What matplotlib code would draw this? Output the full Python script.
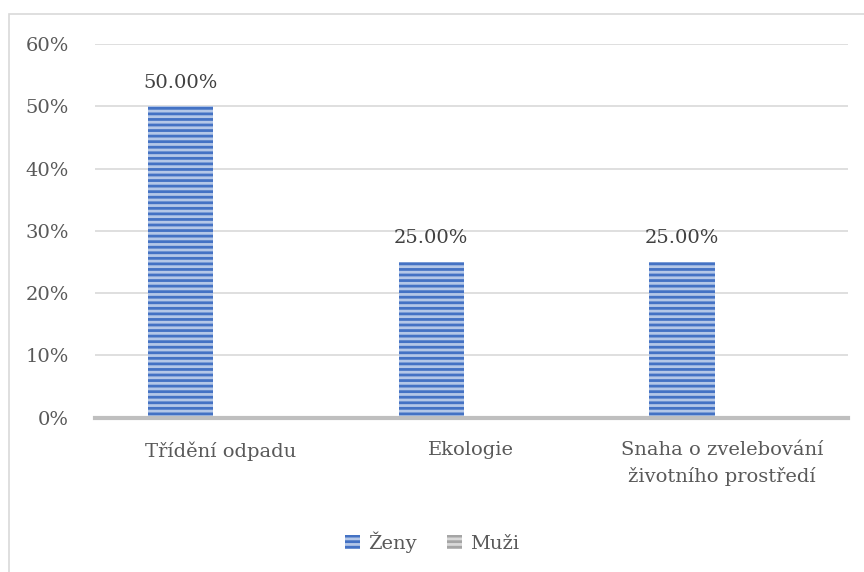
import matplotlib.pyplot as plt
import numpy as np
from matplotlib.patches import Rectangle

categories = ['Třídění odpadu', 'Ekologie', 'Snaha o zvelebování\nživotního prostředí']
zeny = [0.50, 0.25, 0.25]
muzi = [0.0, 0.0, 0.0]
zeny_labels = ['50.00%', '25.00%', '25.00%']
yticks = [0, 0.1, 0.2, 0.3, 0.4, 0.5, 0.6]

plt.rcParams['font.family'] = ['DejaVu Serif']
plt.rcParams['hatch.linewidth'] = 2.0

txt = '#404040'
tick_c = '#595959'
blue = '#4472c4'
gray = '#a5a5a5'
fs = 14

fig = plt.figure(figsize=(8.64, 5.72), dpi=100)
ax = fig.add_axes([0.110, 0.270, 0.871, 0.653])

x = np.arange(len(categories))
bw = 0.26
off = 0.16
ax.bar(x - off, zeny, bw, facecolor='#b4c7e7', edgecolor=blue, hatch='---',
       linewidth=0, label='Ženy')
ax.bar(x + off, muzi, bw, facecolor='#d9d9d9', edgecolor=gray, hatch='---',
       linewidth=0, label='Muži')

for xi, v, s in zip(x, zeny, zeny_labels):
    ax.text(xi - off, v + 0.038, s, ha='center', va='center', fontsize=fs, color=txt)

ax.set_xlim(-0.5, 2.5)
ax.set_ylim(0, 0.6)
ax.set_yticks(yticks)
ax.set_yticklabels(['%d%%' % round(t * 100) for t in yticks], fontsize=fs, color=tick_c)
ax.set_xticks(x)
ax.set_xticklabels(categories, fontsize=fs, color=tick_c, linespacing=1.5, va='top')
ax.tick_params(axis='both', length=0)
ax.tick_params(axis='y', pad=19)
ax.tick_params(axis='x', pad=17)
ax.grid(axis='y', color='#d9d9d9', linewidth=1.2)
ax.set_axisbelow(True)
for s in ['top', 'right', 'left']:
    ax.spines[s].set_visible(False)
ax.spines['bottom'].set_color('#bfbfbf')
ax.spines['bottom'].set_linewidth(3)

fig.legend(loc='center', bbox_to_anchor=(0.5, 1 - 542 / 572), ncol=2, frameon=False,
           fontsize=fs, labelcolor=tick_c, handlelength=0.75, handleheight=0.75,
           handletextpad=0.4, columnspacing=1.6)

fig.patches.append(Rectangle((9 / 864, -0.01), 1.0, 1 - 14 / 572 + 0.01,
                             transform=fig.transFigure, fill=False,
                             edgecolor='#d9d9d9', linewidth=1.2))

fig.savefig('out.png', dpi=100)
